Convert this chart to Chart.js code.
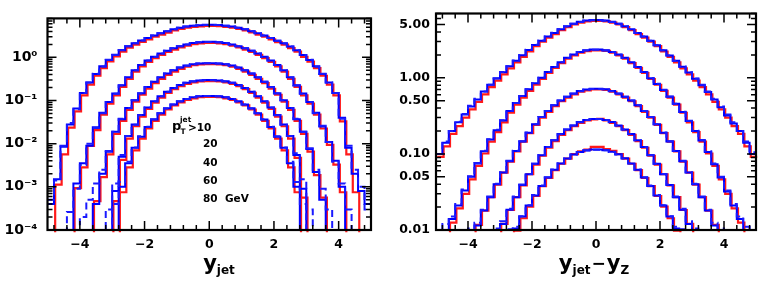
<!DOCTYPE html>
<html><head><meta charset="utf-8">
<script src="https://cdn.jsdelivr.net/npm/chart.js@4.4.1/dist/chart.umd.min.js"></script>
<style>
html,body{margin:0;padding:0;background:#fff;width:763px;height:282px;overflow:hidden}
#l{position:absolute;left:0;top:0}
#r{position:absolute;left:381px;top:0}
</style></head>
<body>
<canvas id="l" width="381" height="282"></canvas>
<canvas id="r" width="382" height="282"></canvas>
<script>
// bin edges (y from -5 to 5, width 0.2)
const binEdges=[-5,-4.8,-4.6,-4.4,-4.2,-4,-3.8,-3.6,-3.4,-3.2,-3,-2.8,-2.6,-2.4,-2.2,-2,-1.8,-1.6,-1.4,-1.2,-1,-0.8,-0.6,-0.4,-0.2,0,0.2,0.4,0.6,0.8,1,1.2,1.4,1.6,1.8,2,2.2,2.4,2.6,2.8,3,3.2,3.4,3.6,3.8,4,4.2,4.4,4.6,4.8,5];
const xTicks=[-4,-2,0,2,4];
const xLabels=['\u22124','\u22122','0','2','4'];
const leftYTicks=[1e-4,1e-3,1e-2,1e-1,1];
const leftYLabels=['10\u207B\u2074','10\u207B\u00B3','10\u207B\u00B2','10\u207B\u00B9','10\u2070'];
const rightYTicks=[0.01,0.05,0.1,0.5,1,5];
const rightYLabels=['0.01','0.05','0.10','0.50','1.00','5.00'];
const cutLabels=['10','20','40','60','80'];

// left panel: d sigma / d y_jet
const leftRed10=[0,0.0012,0.006,0.025,0.06,0.14,0.25,0.40,0.60,0.86,1.12,1.45,1.80,2.10,2.45,2.80,3.20,3.60,4.00,4.50,4.90,5.20,5.45,5.60,5.70,5.70,5.62,5.45,5.20,4.90,4.50,4.05,3.60,3.20,2.80,2.40,2.10,1.75,1.45,1.10,0.85,0.60,0.40,0.25,0.14,0.035,0.006,0.0008,0,0];
const leftBlue10=[0.0004,0.0015,0.0085,0.028,0.065,0.15,0.26,0.41,0.62,0.87,1.15,1.47,1.82,2.12,2.47,2.82,3.22,3.62,4.02,4.48,4.88,5.18,5.42,5.58,5.68,5.68,5.60,5.43,5.18,4.88,4.48,4.05,3.62,3.22,2.82,2.42,2.12,1.78,1.47,1.13,0.87,0.62,0.41,0.26,0.15,0.04,0.008,0.002,0.0008,0.0004];
const leftDash10=[0.0005,0.0014,0.009,0.03,0.063,0.15,0.26,0.42,0.61,0.88,1.14,1.48,1.81,2.13,2.46,2.83,3.21,3.63,4.03,4.49,4.87,5.17,5.41,5.57,5.66,5.66,5.59,5.42,5.17,4.87,4.49,4.04,3.63,3.21,2.83,2.43,2.11,1.79,1.46,1.14,0.88,0.61,0.42,0.26,0.15,0.038,0.009,0.0025,0.001,0.0003];
const leftRed20=[0,0,0,0,0.001,0.003,0.0095,0.022,0.05,0.09,0.14,0.22,0.34,0.50,0.66,0.84,1.02,1.22,1.42,1.62,1.82,2.00,2.15,2.25,2.30,2.30,2.25,2.15,2.00,1.82,1.62,1.42,1.22,1.02,0.84,0.66,0.50,0.34,0.22,0.14,0.09,0.05,0.024,0.01,0.0035,0.0008,0,0,0,0];
const leftBlue20=[0,0,0,0,0.0012,0.0035,0.009,0.024,0.052,0.092,0.145,0.225,0.345,0.505,0.665,0.845,1.03,1.23,1.43,1.63,1.81,1.99,2.14,2.24,2.29,2.29,2.24,2.14,1.99,1.81,1.63,1.43,1.23,1.03,0.845,0.665,0.505,0.345,0.225,0.145,0.092,0.052,0.025,0.011,0.004,0.001,0,0,0,0];
const leftDash20=[0,0,0,0.00026,0.0009,0.0032,0.01,0.023,0.051,0.093,0.143,0.224,0.342,0.503,0.663,0.843,1.025,1.225,1.425,1.625,1.815,1.995,2.14,2.24,2.28,2.28,2.24,2.14,1.995,1.815,1.625,1.425,1.225,1.025,0.843,0.663,0.503,0.342,0.224,0.143,0.093,0.051,0.026,0.011,0.0038,0.0012,0.0003,0,0,0];
const leftRed40=[0,0,0,0,0,0,0,0.0005,0.0018,0.006,0.018,0.036,0.065,0.10,0.145,0.20,0.27,0.34,0.42,0.50,0.58,0.65,0.70,0.73,0.74,0.74,0.73,0.70,0.65,0.58,0.50,0.42,0.34,0.27,0.20,0.145,0.10,0.065,0.036,0.018,0.007,0.002,0.0006,0,0,0,0,0,0,0];
const leftBlue40=[0,0,0,0,0,0,0,0.0004,0.002,0.0065,0.019,0.037,0.067,0.102,0.147,0.205,0.272,0.345,0.425,0.505,0.585,0.645,0.695,0.725,0.735,0.735,0.725,0.695,0.645,0.585,0.505,0.425,0.345,0.272,0.205,0.147,0.102,0.067,0.037,0.019,0.0075,0.0022,0.0005,0,0,0,0,0,0,0];
const leftDash40=[0,0,0,0,0,0.0002,0.0005,0.0012,0.0025,0.0068,0.019,0.038,0.066,0.101,0.146,0.203,0.271,0.343,0.423,0.503,0.583,0.643,0.693,0.722,0.732,0.732,0.722,0.693,0.643,0.583,0.503,0.423,0.343,0.271,0.203,0.146,0.101,0.066,0.038,0.019,0.0078,0.0025,0.0009,0.0003,0,0,0,0,0,0];
const leftRed60=[0,0,0,0,0,0,0,0,0,0,0.0005,0.0045,0.014,0.027,0.045,0.068,0.095,0.125,0.16,0.195,0.23,0.26,0.28,0.295,0.30,0.30,0.295,0.28,0.26,0.23,0.195,0.16,0.125,0.095,0.068,0.045,0.027,0.014,0.005,0.0006,0,0,0,0,0,0,0,0,0,0];
const leftBlue60=[0,0,0,0,0,0,0,0,0,0,0.0008,0.005,0.015,0.028,0.046,0.069,0.096,0.126,0.16,0.194,0.228,0.258,0.278,0.292,0.298,0.298,0.292,0.278,0.258,0.228,0.194,0.16,0.126,0.096,0.069,0.046,0.028,0.015,0.0055,0.0009,0,0,0,0,0,0,0,0,0,0];
const leftDash60=[0,0,0,0,0,0,0,0,0,0.0003,0.0012,0.0055,0.015,0.0275,0.0455,0.0685,0.0955,0.1255,0.159,0.193,0.227,0.257,0.277,0.291,0.297,0.297,0.291,0.277,0.257,0.227,0.193,0.159,0.1255,0.0955,0.0685,0.0455,0.0275,0.015,0.006,0.0015,0.0003,0,0,0,0,0,0,0,0,0];
const leftRed80=[0,0,0,0,0,0,0,0,0,0,0,0.0008,0.003,0.0075,0.014,0.024,0.036,0.05,0.066,0.082,0.097,0.11,0.12,0.128,0.13,0.13,0.128,0.12,0.11,0.097,0.082,0.066,0.05,0.036,0.024,0.014,0.0075,0.003,0.0008,0,0,0,0,0,0,0,0,0,0,0];
const leftBlue80=[0,0,0,0,0,0,0,0,0,0,0,0.001,0.0035,0.008,0.0145,0.0245,0.0365,0.0505,0.066,0.081,0.096,0.109,0.119,0.126,0.128,0.128,0.126,0.119,0.109,0.096,0.081,0.066,0.0505,0.0365,0.0245,0.0145,0.008,0.0035,0.001,0,0,0,0,0,0,0,0,0,0,0];
const leftDash80=[0,0,0,0,0,0,0,0,0,0,0.0004,0.0013,0.0038,0.0082,0.0148,0.0248,0.0368,0.0508,0.0655,0.0805,0.0955,0.1085,0.1185,0.1255,0.1275,0.1275,0.1255,0.1185,0.1085,0.0955,0.0805,0.0655,0.0508,0.0368,0.0248,0.0148,0.0082,0.0038,0.0013,0.0004,0,0,0,0,0,0,0,0,0,0];

// right panel: d sigma / d (y_jet - y_Z)
const rightRed10=[0.095,0.13,0.19,0.24,0.31,0.40,0.50,0.63,0.78,0.95,1.15,1.38,1.65,1.95,2.30,2.70,3.10,3.50,3.90,4.40,4.80,5.20,5.50,5.70,5.80,5.80,5.72,5.50,5.20,4.80,4.40,3.90,3.50,3.10,2.70,2.30,1.95,1.65,1.38,1.15,0.95,0.78,0.63,0.50,0.40,0.31,0.24,0.19,0.13,0.095];
const rightBlue10=[0.10,0.14,0.20,0.26,0.33,0.42,0.52,0.66,0.81,0.98,1.18,1.42,1.68,1.98,2.32,2.70,3.08,3.48,3.88,4.35,4.75,5.15,5.45,5.65,5.75,5.75,5.68,5.45,5.15,4.75,4.35,3.88,3.48,3.08,2.68,2.30,1.96,1.67,1.40,1.17,0.97,0.80,0.65,0.52,0.41,0.32,0.25,0.20,0.14,0.10];
const rightDash10=[0.10,0.145,0.20,0.265,0.335,0.43,0.53,0.66,0.81,0.99,1.19,1.42,1.69,1.99,2.33,2.72,3.10,3.50,3.90,4.36,4.74,5.12,5.42,5.60,5.70,5.70,5.64,5.42,5.12,4.74,4.36,3.88,3.48,3.08,2.68,2.31,1.97,1.68,1.41,1.18,0.98,0.81,0.66,0.53,0.42,0.33,0.26,0.20,0.145,0.105];
const rightRed20=[0,0.0085,0.013,0.02,0.031,0.048,0.072,0.105,0.15,0.20,0.27,0.36,0.46,0.57,0.70,0.84,1.00,1.20,1.40,1.62,1.85,2.05,2.22,2.33,2.38,2.38,2.34,2.22,2.05,1.85,1.62,1.40,1.20,1.00,0.84,0.70,0.57,0.46,0.36,0.27,0.20,0.15,0.105,0.072,0.048,0.031,0.02,0.013,0.0085,0];
const rightBlue20=[0,0.009,0.014,0.021,0.033,0.05,0.075,0.108,0.155,0.205,0.275,0.365,0.465,0.575,0.705,0.845,1.00,1.19,1.39,1.60,1.83,2.02,2.19,2.30,2.35,2.35,2.30,2.19,2.02,1.83,1.60,1.39,1.19,0.99,0.83,0.69,0.565,0.455,0.355,0.27,0.20,0.15,0.106,0.073,0.049,0.032,0.021,0.014,0.0095,0];
const rightDash20=[0,0.012,0.015,0.022,0.034,0.051,0.076,0.11,0.156,0.207,0.277,0.366,0.466,0.576,0.706,0.846,1.00,1.19,1.39,1.60,1.82,2.01,2.18,2.29,2.34,2.34,2.29,2.18,2.01,1.82,1.60,1.39,1.19,0.995,0.835,0.695,0.567,0.457,0.357,0.272,0.202,0.152,0.108,0.075,0.05,0.033,0.022,0.015,0.011,0];
const rightRed40=[0,0,0,0,0,0,0.0121,0.0186,0.028,0.041,0.059,0.082,0.112,0.15,0.195,0.25,0.31,0.37,0.44,0.51,0.57,0.63,0.68,0.71,0.73,0.73,0.72,0.68,0.63,0.57,0.51,0.44,0.37,0.31,0.25,0.195,0.15,0.112,0.082,0.059,0.041,0.028,0.0186,0.0121,0,0,0,0,0,0];
const rightBlue40=[0,0,0,0,0,0,0.0115,0.018,0.027,0.04,0.057,0.08,0.109,0.146,0.19,0.245,0.305,0.365,0.435,0.505,0.565,0.62,0.67,0.70,0.72,0.72,0.71,0.67,0.62,0.565,0.505,0.435,0.365,0.305,0.245,0.19,0.146,0.109,0.08,0.057,0.04,0.027,0.018,0.0115,0,0,0,0,0,0];
const rightDash40=[0,0,0,0,0,0.0105,0.0125,0.0185,0.0275,0.0405,0.0575,0.081,0.11,0.147,0.191,0.246,0.306,0.366,0.436,0.504,0.563,0.618,0.667,0.695,0.715,0.715,0.705,0.667,0.618,0.563,0.504,0.436,0.366,0.306,0.246,0.191,0.147,0.11,0.081,0.0575,0.0405,0.0275,0.0185,0.0125,0.0105,0,0,0,0,0];
const rightRed60=[0,0,0,0,0,0,0,0,0,0,0.0125,0.019,0.028,0.04,0.056,0.075,0.098,0.125,0.153,0.184,0.213,0.24,0.265,0.285,0.295,0.30,0.285,0.265,0.24,0.213,0.184,0.153,0.125,0.098,0.075,0.056,0.04,0.028,0.019,0.0125,0,0,0,0,0,0,0,0,0,0];
const rightBlue60=[0,0,0,0,0,0,0,0,0,0,0.012,0.0185,0.027,0.039,0.054,0.074,0.096,0.123,0.151,0.182,0.21,0.237,0.262,0.28,0.288,0.288,0.28,0.262,0.237,0.21,0.182,0.151,0.123,0.096,0.074,0.054,0.039,0.027,0.0185,0.012,0,0,0,0,0,0,0,0,0,0];
const rightDash60=[0,0,0,0,0,0,0,0,0,0.0105,0.013,0.019,0.0275,0.0395,0.0545,0.0745,0.0965,0.1235,0.1515,0.1815,0.2095,0.236,0.261,0.279,0.287,0.287,0.279,0.261,0.236,0.2095,0.1815,0.1515,0.1235,0.0965,0.0745,0.0545,0.0395,0.0275,0.019,0.013,0.0105,0,0,0,0,0,0,0,0,0];
const rightRed80=[0,0,0,0,0,0,0,0,0,0,0,0,0.0102,0.0148,0.021,0.029,0.039,0.05,0.0635,0.077,0.09,0.103,0.112,0.118,0.128,0.128,0.12,0.114,0.103,0.09,0.077,0.0635,0.05,0.039,0.029,0.021,0.0148,0.0102,0,0,0,0,0,0,0,0,0,0,0,0];
const rightBlue80=[0,0,0,0,0,0,0,0,0,0,0,0,0.0105,0.015,0.021,0.0285,0.038,0.049,0.062,0.075,0.087,0.098,0.106,0.111,0.114,0.114,0.112,0.107,0.099,0.088,0.075,0.062,0.049,0.038,0.0285,0.021,0.015,0.0105,0,0,0,0,0,0,0,0,0,0,0,0];
const rightDash80=[0,0,0,0,0,0,0,0,0,0,0,0.0102,0.011,0.0152,0.0212,0.0288,0.0383,0.0493,0.0623,0.0753,0.0873,0.0983,0.1063,0.1113,0.1133,0.1133,0.1113,0.1063,0.0983,0.0873,0.0753,0.0623,0.0493,0.0383,0.0288,0.0212,0.0152,0.011,0.0102,0,0,0,0,0,0,0,0,0,0,0];

const FONT='"DejaVu Sans", sans-serif';

function steps(vals){
  const pts=vals.map((v,i)=>({x:binEdges[i],y:v>0?v:1e-9}));
  const last=vals[vals.length-1];
  pts.push({x:binEdges[vals.length],y:last>0?last:1e-9});
  return pts;
}
function buildSets(reds,blues,dashes){
  const out=[];
  reds.forEach((v,i)=>out.push({label:'red '+cutLabels[i],data:steps(v),borderColor:'#ff1a1a',borderWidth:2.2,order:3}));
  blues.forEach((v,i)=>out.push({label:'blue '+cutLabels[i],data:steps(v),borderColor:'#0000ff',borderWidth:2,order:2}));
  dashes.forEach((v,i)=>out.push({label:'dashed '+cutLabels[i],data:steps(v),borderColor:'#1a1aff',borderWidth:2,borderDash:[7,4],order:1}));
  out.forEach(d=>{d.stepped='before';d.pointRadius=0;d.fill=false;d.clip=1;});
  return out;
}

// the red histogram in the original is printed about one pixel right/down of the blue ones
const redOffset={id:'redOffset',
  beforeDatasetDraw(chart,args){const ds=chart.data.datasets[args.index];if(ds.order===3){chart.ctx.save();chart.ctx.translate(1.2,1.2);}},
  afterDatasetDraw(chart,args){const ds=chart.data.datasets[args.index];if(ds.order===3){chart.ctx.restore();}}
};

function minorLog(min,max){
  const r=[];
  for(let e=-6;e<=2;e++){for(let m=1;m<10;m++){const v=m*Math.pow(10,e);if(v>=min*0.999&&v<=max*1.001)r.push(v);}}
  return r;
}

function framePlugin(majorY,minY,maxY){
  return {id:'frame',afterDatasetsDraw(chart){
    const ctx=chart.ctx,a=chart.chartArea,xs=chart.scales.x,ys=chart.scales.y;
    ctx.save();
    ctx.strokeStyle='#000';ctx.lineWidth=1.5;
    ctx.beginPath();
    for(let k=0;k<=24;k++){
      const v=-4.8+0.4*k;const px=xs.getPixelForValue(v);
      const major=xTicks.some(t=>Math.abs(t-v)<1e-6);const L=major?9:5;
      ctx.moveTo(px,a.bottom);ctx.lineTo(px,a.bottom-L);
      ctx.moveTo(px,a.top);ctx.lineTo(px,a.top+L);
    }
    minorLog(minY,maxY).forEach(v=>{
      const py=ys.getPixelForValue(v);
      const major=majorY.some(t=>Math.abs(t-v)/t<1e-6);const L=major?9:5;
      ctx.moveTo(a.left,py);ctx.lineTo(a.left+L,py);
      ctx.moveTo(a.right,py);ctx.lineTo(a.right-L,py);
    });
    ctx.stroke();
    ctx.lineWidth=2.2;
    ctx.strokeRect(a.left,a.top,a.right-a.left,a.bottom-a.top);
    ctx.restore();
  }};
}

function drawParts(ctx,parts,cx,base){
  let w=0;parts.forEach(p=>{ctx.font=p.f;p.w=ctx.measureText(p.t).width;w+=p.w+(p.gap||0);});
  let x=cx-w/2;
  parts.forEach(p=>{ctx.font=p.f;ctx.fillText(p.t,x,base+(p.dy||0));x+=p.w+(p.gap||0);});
}

const textLeft={id:'textLeft',afterDraw(chart){
  const ctx=chart.ctx;ctx.save();ctx.fillStyle='#000';ctx.textBaseline='alphabetic';ctx.textAlign='left';
  drawParts(ctx,[{t:'y',f:'bold 21px '+FONT},{t:'jet',f:'bold 12px '+FONT,dy:4}],219,270);
  ctx.font='bold 13px '+FONT;ctx.fillText('p',172,130);
  ctx.font='bold 7.5px '+FONT;ctx.fillText('T',180.5,134);
  ctx.font='bold 7.5px '+FONT;ctx.fillText('jet',180,122);
  ctx.font='bold 10.5px '+FONT;ctx.fillText('>'+cutLabels[0],188,131);
  const ys=[147,166,184,202];
  for(let i=1;i<5;i++){ctx.fillText(cutLabels[i]+(i===4?'  GeV':''),203,ys[i-1]);}
  ctx.restore();
}};
const textRight={id:'textRight',afterDraw(chart){
  const ctx=chart.ctx;ctx.save();ctx.fillStyle='#000';ctx.textBaseline='alphabetic';ctx.textAlign='left';
  drawParts(ctx,[{t:'y',f:'bold 21px '+FONT},{t:'jet',f:'bold 12px '+FONT,dy:4,gap:1},{t:'\u2212',f:'bold 17px '+FONT,dy:-1,gap:1},{t:'y',f:'bold 21px '+FONT},{t:'Z',f:'bold 12px '+FONT,dy:4}],213,270);
  ctx.restore();
}};

function makeChart(id,sets,yMin,yMax,yTicks,yLabels,yWidth,yPad,padRight,plugins,majorY,ySize){
  const tickFont={family:FONT,weight:'bold',size:12.5};
  return new Chart(document.getElementById(id),{
    type:'line',
    data:{datasets:sets},
    options:{
      responsive:false,animation:false,devicePixelRatio:1,
      layout:{padding:{left:0,right:padRight,top:5,bottom:0}},
      plugins:{legend:{display:false},tooltip:{enabled:false}},
      scales:{
        x:{type:'linear',min:-5,max:5,
          afterBuildTicks(s){s.ticks=xTicks.map(v=>({value:v}));},
          afterFit(s){s.height=52;},
          grid:{display:false,drawTicks:false},border:{display:false},
          ticks:{color:'#000',font:tickFont,padding:7,maxRotation:0,autoSkip:false,
            callback:(v)=>xLabels[xTicks.indexOf(v)]}},
        y:{type:'logarithmic',min:yMin,max:yMax,
          afterBuildTicks(s){s.ticks=yTicks.map(v=>({value:v}));},
          afterFit(s){s.width=yWidth;},
          grid:{display:false,drawTicks:false},border:{display:false},
          ticks:{color:'#000',font:{family:FONT,weight:'bold',size:ySize},padding:yPad,autoSkip:false,
            callback:(v)=>{const i=yTicks.findIndex(t=>Math.abs(t-v)/t<1e-6);return i>=0?yLabels[i]:'';}}}
      }
    },
    plugins:[redOffset,framePlugin(majorY,yMin,yMax)].concat(plugins)
  });
}

makeChart('l',buildSets([leftRed10,leftRed20,leftRed40,leftRed60,leftRed80],[leftBlue10,leftBlue20,leftBlue40,leftBlue60,leftBlue80],[leftDash10,leftDash20,leftDash40,leftDash60,leftDash80]),
  1e-4,8,leftYTicks,leftYLabels,47.5,10,10,[textLeft],leftYTicks,14);
makeChart('r',buildSets([rightRed10,rightRed20,rightRed40,rightRed60,rightRed80],[rightBlue10,rightBlue20,rightBlue40,rightBlue60,rightBlue80],[rightDash10,rightDash20,rightDash40,rightDash60,rightDash80]),
  0.01,7,rightYTicks,rightYLabels,55,6,7,[textRight],rightYTicks,12.5);
</script>
</body></html>
